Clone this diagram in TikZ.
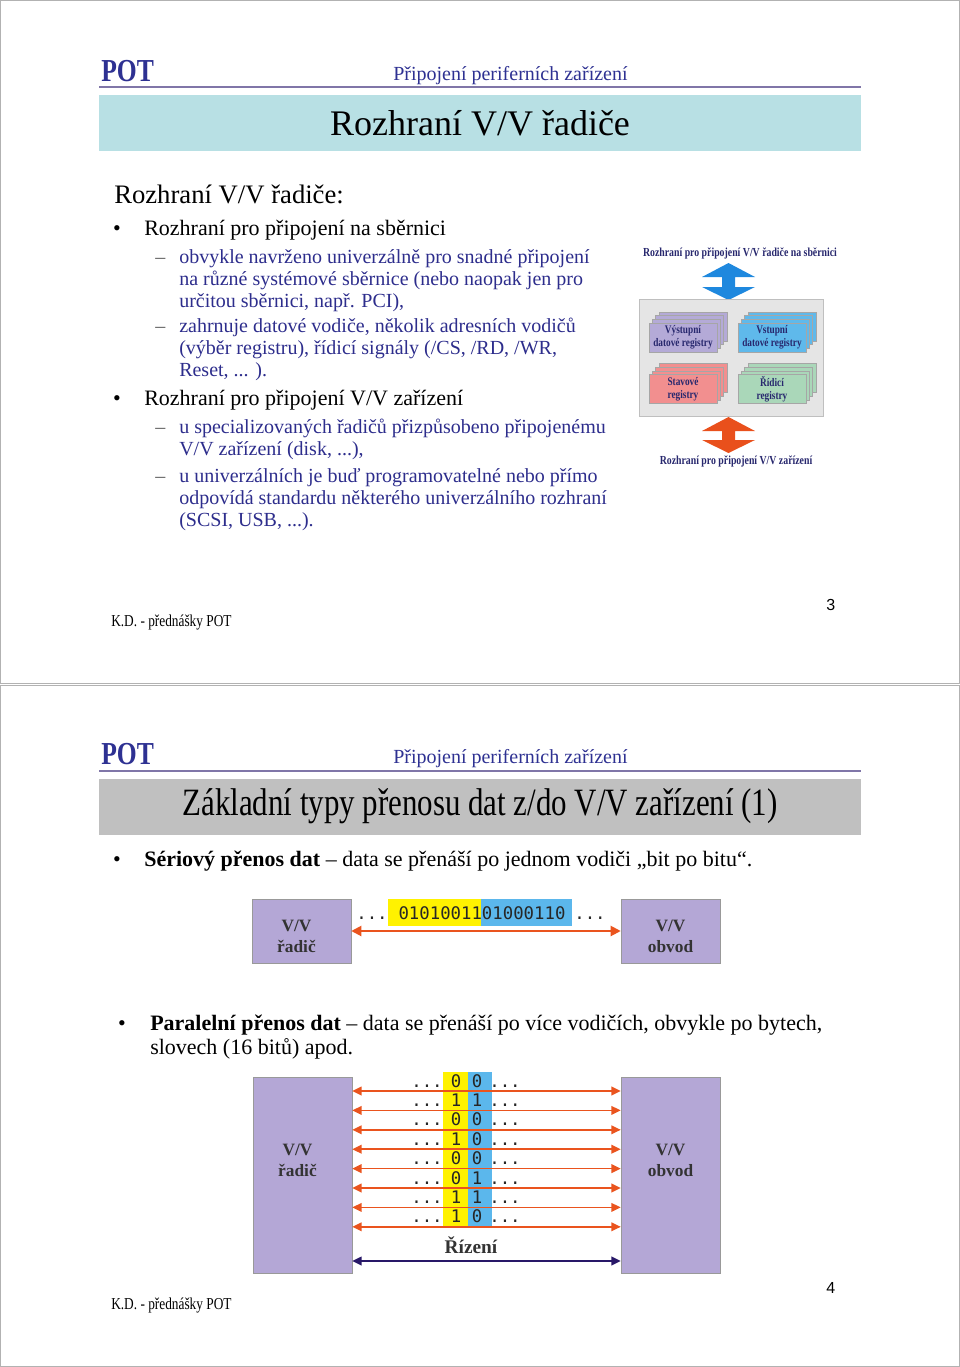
\documentclass[tikz,border=0pt]{standalone}
\usepackage{fontspec}
\setmainfont{Liberation Serif}
\newfontfamily\condfont{Liberation Serif}[FakeStretch=0.8]
\newfontfamily\bitfont{DejaVu Sans Mono}
\newfontfamily\pagefont{Liberation Sans}
\usepackage{tikz}
\usetikzlibrary{positioning,arrows.meta,calc}
\definecolor{potnavy}{RGB}{46,49,146}
\definecolor{itemnavy}{RGB}{45,45,140}
\definecolor{headline}{RGB}{128,118,168}
\definecolor{titlecyan}{RGB}{184,224,228}
\definecolor{titlegray}{RGB}{192,192,192}
\definecolor{boxlav}{RGB}{180,167,214}
\definecolor{bityellow}{RGB}{255,242,0}
\definecolor{bitblue}{RGB}{91,183,236}
\definecolor{wirered}{RGB}{234,84,30}
\definecolor{ctrlnavy}{RGB}{40,24,104}
\definecolor{regpurple}{RGB}{180,170,215}
\definecolor{regblue}{RGB}{95,185,235}
\definecolor{regpink}{RGB}{242,143,143}
\definecolor{reggreen}{RGB}{170,215,185}
\definecolor{busblue}{RGB}{30,136,222}
\definecolor{devorange}{RGB}{233,80,28}
\definecolor{diagnavy}{RGB}{40,40,110}

% stack of four register cards, the front one is named #1
\newcommand{\regstack}[5]{%
  \foreach \k in {3,2,1}
    \node[reg, fill=#4] at ({#2+3.3*\k}, {#3-3.7*\k}) {};
  \node[reg, fill=#4] (#1) at (#2,#3) {#5};
}

\begin{document}
\begin{tikzpicture}[x=0.75pt, y=-0.75pt,
  slide/.style={draw=black!30, line width=0.6pt},
  pot/.style={anchor=base west, inner sep=0pt, text=potnavy, font=\condfont\fontsize{24}{28}\selectfont\bfseries},
  chapter/.style={anchor=base west, inner sep=0pt, text=potnavy, font=\fontsize{15}{18}\selectfont},
  headrule/.style={draw=headline, line width=1.5pt},
  titlebox/.style={minimum width=571.5pt, minimum height=42pt, inner sep=0pt},
  footer/.style={anchor=base west, inner sep=0pt, font=\condfont\fontsize{12.5}{15}\selectfont},
  pageno/.style={anchor=base west, inner sep=0pt, font=\pagefont\fontsize{12}{14}\selectfont},
  bullet/.style={anchor=base, inner sep=0pt, font=\fontsize{16.5}{18}\selectfont},
  item/.style={anchor=base west, inner sep=0pt, align=left, font=\fontsize{16.5}{18}\selectfont},
  dashmark/.style={anchor=base west, inner sep=0pt, text=black!65, font=\fontsize{15}{16.5}\selectfont},
  subitem/.style={anchor=base west, inner sep=0pt, align=left, text=itemnavy, font=\fontsize{15}{16.5}\selectfont},
  diaglbl/.style={text=diagnavy, font=\condfont\fontsize{9.2}{11}\selectfont\bfseries},
  reg/.style={draw=black!35, line width=0.4pt, minimum width=51pt, minimum height=21.75pt, inner sep=0pt, align=center, text=diagnavy, font=\condfont\fontsize{8.7}{9.75}\selectfont\bfseries},
  unit/.style={draw=black!40, fill=boxlav, minimum width=74.25pt, inner sep=0pt},
  unitlbl/.style={align=center, text=black!80, font=\fontsize{13}{15.75}\selectfont\bfseries},
  bits/.style={anchor=base, inner sep=0pt, text=black!85, font=\bitfont\fontsize{13}{15}\selectfont},
  wire/.style={{Triangle[length=7.5pt,width=7.5pt]}-{Triangle[length=7.5pt,width=7.5pt]}, draw=wirered, line width=1.5pt},
  pwire/.style={{Triangle[length=7pt,width=6.5pt]}-{Triangle[length=7pt,width=6.5pt]}, draw=wirered, line width=1.2pt},
  ctrl/.style={{Triangle[length=7pt,width=6.5pt]}-{Triangle[length=7pt,width=6.5pt]}, draw=ctrlnavy, line width=1.2pt},
]
\useasboundingbox (0,0) rectangle (960,1367);

% slide 3
\draw[slide] (0.5,0.5) rectangle (959.5,683);
\node[pot] (pot1) at (101,81) {POT};
\node[chapter] (chap1) at (393,80) {Připojení periferních zařízení};
\draw[headrule] (99,87) -- (861,87);
\node[titlebox, fill=titlecyan, font=\fontsize{27}{32}\selectfont] (head1) at (480,123) {Rozhraní V/V řadiče};

% multi-line items sit on the baseline of their last line
\node[anchor=base west, inner sep=0pt, font=\fontsize{20}{24}\selectfont] (intro) at (114,203) {Rozhraní V/V řadiče:};
\node[bullet] (b1) at (117,235) {•};
\node[item] (i1) at (144,235) {Rozhraní pro připojení na sběrnici};
\node[dashmark] (d1) at (155,263) {–};
\node[subitem] (s1) at (179,307) {obvykle navrženo univerzálně pro snadné připojení\\na různé systémové sběrnice (nebo naopak jen pro\\určitou sběrnici, např. PCI),};
\node[dashmark] (d2) at (155,332) {–};
\node[subitem] (s2) at (179,376) {zahrnuje datové vodiče, několik adresních vodičů\\(výběr registru), řídicí signály (/CS, /RD, /WR,\\Reset, ... ).};
\node[bullet] (b2) at (117,405) {•};
\node[item] (i2) at (144,405) {Rozhraní pro připojení V/V zařízení};
\node[dashmark] (d3) at (155,433) {–};
\node[subitem] (s3) at (179,455) {u specializovaných řadičů přizpůsobeno připojenému\\V/V zařízení (disk, ...),};
\node[dashmark] (d4) at (155,482) {–};
\node[subitem] (s4) at (179,526) {u univerzálních je buď programovatelné nebo přímo\\odpovídá standardu některého univerzálního rozhraní\\(SCSI, USB, ...).};

% register block
\node[diaglbl] (busl) at (740,253) {Rozhraní pro připojení V/V řadiče na sběrnici};
\fill[busblue] (728.5,263) -- (755,277) -- (735,277) -- (735,287) -- (755,287) -- (728.5,300)
  -- (702,287) -- (722,287) -- (722,277) -- (702,277) -- cycle;
\node[draw=black!25, fill=black!10, minimum width=138pt, minimum height=87.75pt] (regs) at (731,357.5) {};
\regstack{rout}{683}{337.5}{regpurple}{Výstupní\\datové registry}
\regstack{rin}{772}{337.5}{regblue}{Vstupní\\datové registry}
\regstack{rstat}{683}{389}{regpink}{Stavové\\registry}
\regstack{rctl}{772}{389}{reggreen}{Řídicí\\registry}
\fill[devorange] (728.5,417) -- (755,431) -- (735,431) -- (735,440) -- (755,440) -- (728.5,453)
  -- (702,440) -- (722,440) -- (722,431) -- (702,431) -- cycle;
\node[diaglbl] (devl) at (736,461) {Rozhraní pro připojení V/V zařízení};

\node[footer] (foot1) at (111,626) {K.D. - přednášky POT};
\node[pageno] (pg1) at (826,610) {3};

% slide 4
\draw[slide] (0.5,685) rectangle (959.5,1366.5);
\node[pot] (pot2) at (101,764.5) {POT};
\node[chapter] (chap2) at (393,763.5) {Připojení periferních zařízení};
\draw[headrule] (99,770.5) -- (861,770.5);
\node[titlebox, fill=titlegray, font=\condfont\fontsize{29}{34}\selectfont] (head2) at (480,806.5) {Základní typy přenosu dat z/do V/V zařízení (1)};

% serial
\node[bullet] (b3) at (117,866) {•};
\node[item] (i3) at (144,866) {\textbf{Sériový přenos dat} – data se přenáší po jednom vodiči „bit po bitu“.};
\node[unit, minimum height=48pt] (radicS) at (301.5,931) {};
\node[unit, minimum height=48pt] (obvodS) at (670.5,931) {};
\node[unitlbl] (radicSl) at ($(radicS)+(-5,5)$) {V/V\\řadič};
\node[unitlbl] (obvodSl) at ($(obvodS)+(0,5)$) {V/V\\obvod};
\fill[bityellow] (388,899) rectangle (481,926);
\fill[bitblue] (481,899) rectangle (572,926);
\node[bits] (stream) at (482,919) {0101001101000110};
\node[bits] (dotsL) at (372,919) {...};
\node[bits] (dotsR) at (590,919) {...};
\draw[wire] (radicS) -- (obvodS);

% parallel
\node[bullet] (b4) at (122,1030) {•};
\node[item] (i4) at (150,1054) {\textbf{Paralelní přenos dat} – data se přenáší po více vodičích, obvykle po bytech,\\slovech (16 bitů) apod.};
\node[unit, minimum height=147pt] (radicP) at (302.5,1175) {};
\node[unit, minimum height=147pt] (obvodP) at (670.5,1175) {};
\node[unitlbl] (radicPl) at ($(radicP)+(-5,-15)$) {V/V\\řadič};
\node[unitlbl] (obvodPl) at ($(obvodP)+(0,-15)$) {V/V\\obvod};
\fill[bityellow] (443,1072) rectangle (468,1227);
\fill[bitblue] (468,1072) rectangle (492,1227);
\foreach \a/\b [count=\k from 0] in {0/0,1/1,0/0,1/0,0/0,0/1,1/1,1/0} {
  \node[bits] (hi\k) at (456,{1087+19.4*\k}) {\a};
  \node[bits] (lo\k) at (477,{1087+19.4*\k}) {\b};
  \node[bits] (pl\k) at (427,{1087+19.4*\k}) {...};
  \node[bits] (pr\k) at (505,{1087+19.4*\k}) {...};
  \coordinate (w\k) at (472,{1091+19.4*\k});
}
\foreach \k in {0,...,7}
  \draw[pwire] (radicP.east |- w\k) -- (obvodP.west |- w\k);
\node[anchor=base, text=black!80, font=\fontsize{14.5}{17}\selectfont\bfseries] (rizeni) at (471,1253) {Řízení};
\coordinate (ctl) at (471,1261);
\draw[ctrl] (radicP.east |- ctl) -- (obvodP.west |- ctl);

\node[footer] (foot2) at (111,1309) {K.D. - přednášky POT};
\node[pageno] (pg2) at (826,1293) {4};

\end{tikzpicture}
\end{document}
